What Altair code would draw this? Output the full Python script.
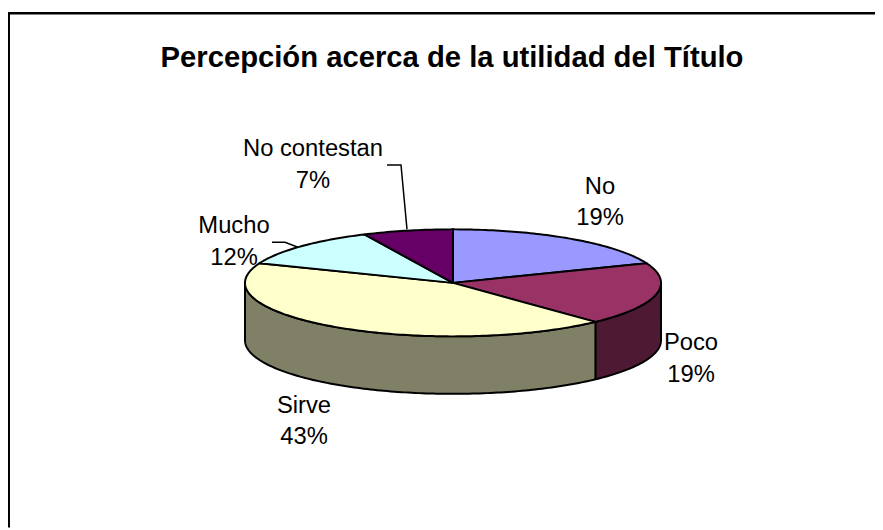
import math
import altair as alt
import pandas as pd

title = "Percepción acerca de la utilidad del Título"
categories = ["No", "Poco", "Sirve", "Mucho", "No contestan"]
shares = [19, 19, 43, 12, 7]
top_colors = ["#9999FF", "#993366", "#FFFFCC", "#CCFFFF", "#660066"]
side_colors = ["#4D4D80", "#4D1933", "#808066", "#668080", "#330033"]
label_x = [600, 691, 304, 234, 313]
label_y = [193, 351, 414, 233, 155]

CX, CY, RX, RY, DEPTH = 453, 283, 208, 54, 58
W, H = 875, 522
xs = alt.Scale(domain=[8, 875], nice=False, zero=False)
ys = alt.Scale(domain=[8 + H, 8], nice=False, zero=False)


def pt(deg, dy=0):
    a = math.radians(deg)
    return CX + RX * math.sin(a), CY - RY * math.cos(a) + dy


def poly(points, fill, width=2.0):
    df = pd.DataFrame({"x": [p[0] for p in points], "y": [p[1] for p in points],
                       "i": range(len(points))})
    return alt.Chart(df).mark_line(fill=fill, stroke="#000000", strokeWidth=width,
                                   strokeJoin="round", clip=False).encode(
        x=alt.X("x:Q", scale=xs, axis=None),
        y=alt.Y("y:Q", scale=ys, axis=None),
        order="i:Q",
    )


def arc(a0, a1, dy=0):
    n = max(2, int(abs(a1 - a0)) + 1)
    return [pt(a0 + (a1 - a0) * k / n, dy) for k in range(n + 1)]


layers = []
start = 0
bounds = []
for s in shares:
    bounds.append((start, start + s * 3.6))
    start += s * 3.6
for (a0, a1), col in zip(bounds, side_colors):
    lo, hi = max(a0, 90), min(a1, 270)
    if hi > lo:
        layers.append(poly(arc(lo, hi) + arc(hi, lo, DEPTH) + [pt(lo)], col))
for (a0, a1), col in zip(bounds, top_colors):
    layers.append(poly([(CX, CY)] + arc(a0, a1) + [(CX, CY)], col))

for pts in ([(387, 164), (401, 164), (407, 229)], [(272, 242), (285, 242), (298, 247)]):
    df = pd.DataFrame({"x": [p[0] for p in pts], "y": [p[1] for p in pts], "i": range(len(pts))})
    layers.append(alt.Chart(df).mark_line(color="#000000", strokeWidth=1.5).encode(
        x=alt.X("x:Q", scale=xs, axis=None), y=alt.Y("y:Q", scale=ys, axis=None), order="i:Q"))

FS = 24
rows = []
for c, s, lx, ly in zip(categories, shares, label_x, label_y):
    rows.append({"x": lx, "y": ly, "t": c})
    rows.append({"x": lx, "y": ly + 32, "t": f"{s}%"})
layers.append(alt.Chart(pd.DataFrame(rows)).mark_text(
    font="Liberation Sans", fontSize=FS, color="#000000", align="center", baseline="alphabetic"
).encode(x=alt.X("x:Q", scale=xs, axis=None), y=alt.Y("y:Q", scale=ys, axis=None), text="t:N"))

layers.append(alt.Chart(pd.DataFrame({"x": [452], "y": [65], "t": [title]})).mark_text(
    font="Liberation Sans", fontSize=29.5, fontWeight="bold", color="#000000",
    align="center", baseline="alphabetic"
).encode(x=alt.X("x:Q", scale=xs, axis=None), y=alt.Y("y:Q", scale=ys, axis=None), text="t:N"))

frame_df = pd.DataFrame({"k": [0]})
layers.append(alt.Chart(frame_df).mark_rule(color="#000000", strokeWidth=2.5).encode(
    x=alt.value(0), x2=alt.value(W), y=alt.value(3)))
layers.append(alt.Chart(frame_df).mark_rule(color="#000000", strokeWidth=2).encode(
    x=alt.value(1), y=alt.value(3), y2=alt.value(H)))

chart = alt.layer(*layers).properties(
    width=W, height=H, padding=0,
    autosize=alt.AutoSizeParams(type="none", contains="content"),
    background="#FFFFFF",
).configure_view(stroke=None)

chart.save("out.html", embed_options={"renderer": "svg", "actions": False})
